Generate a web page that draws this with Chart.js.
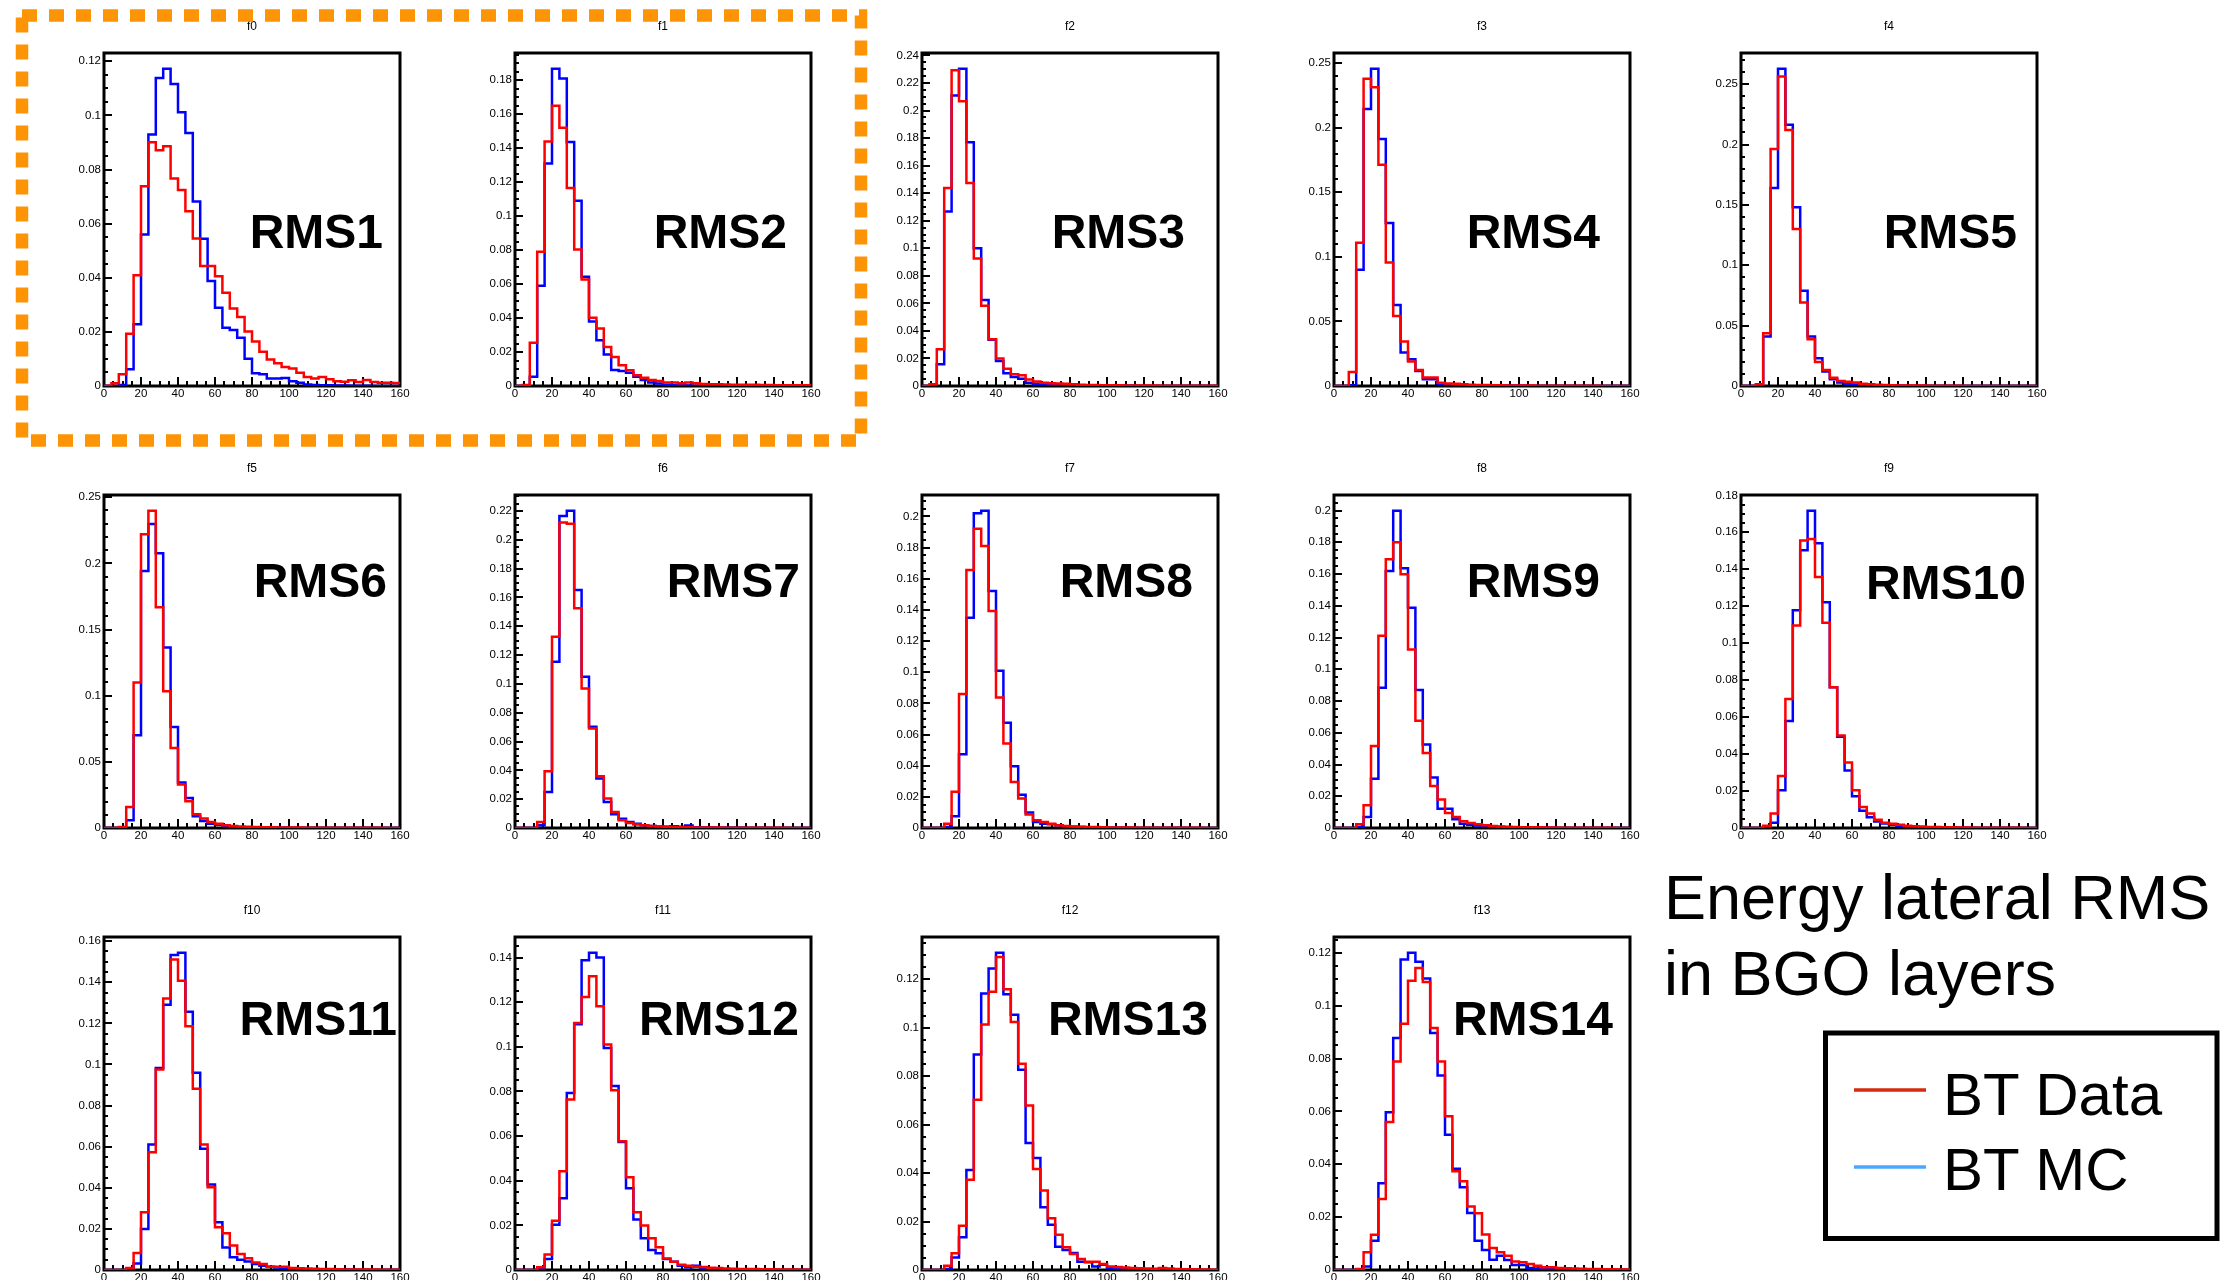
<!DOCTYPE html>
<html>
<head>
<meta charset="utf-8">
<title>Energy lateral RMS in BGO layers</title>
<script src="https://cdn.jsdelivr.net/npm/chart.js@4.4.1/dist/chart.umd.min.js"></script>
<style>
  html, body { margin: 0; padding: 0; background: #fff; }
  #page { position: relative; width: 2238px; height: 1280px; overflow: hidden; background: #fff; }
  #page canvas { position: absolute; }
  #notes { position: absolute; left: 0; top: 0; pointer-events: none; }
  #notes text { font-family: 'Liberation Sans', Arial, Helvetica, sans-serif; fill: #000; }
</style>
</head>
<body>
<div id="page">
  <svg id="notes" width="2238" height="1280" xmlns="http://www.w3.org/2000/svg">
    <rect x="22" y="15.5" width="839" height="425" fill="none" stroke="#fc9406" stroke-width="12.5" stroke-dasharray="15 12"/>
    <text x="1664" y="919" font-size="63">Energy lateral RMS</text>
    <text x="1664" y="995" font-size="63">in BGO layers</text>
    <rect x="1825.5" y="1033" width="391.5" height="205.5" fill="none" stroke="#000" stroke-width="5"/>
    <g id="legendItems"></g>
  </svg>
</div>
<script>
// bin edges (x axis, width 4)
const binEdges = [0, 4, 8, 12, 16, 20, 24, 28, 32, 36, 40, 44, 48, 52, 56, 60, 64, 68, 72, 76,
  80, 84, 88, 92, 96, 100, 104, 108, 112, 116, 120, 124, 128, 132, 136, 140, 144, 148, 152, 156, 160];

const panelTitles = ['f0', 'f1', 'f2', 'f3', 'f4', 'f5', 'f6', 'f7', 'f8', 'f9', 'f10', 'f11', 'f12', 'f13'];
const panelLabels = ['RMS1', 'RMS2', 'RMS3', 'RMS4', 'RMS5', 'RMS6', 'RMS7', 'RMS8', 'RMS9', 'RMS10',
  'RMS11', 'RMS12', 'RMS13', 'RMS14'];
const seriesNames = ['BT Data', 'BT MC'];
const xTickStep = 20;
const yTickStep = [0.02, 0.02, 0.02, 0.05, 0.05, 0.05, 0.02, 0.02, 0.02, 0.02, 0.02, 0.02, 0.02, 0.02];

// BT Data (red) and BT MC (blue), one value per bin
const data1 = [0, 0.001, 0.0043, 0.0193, 0.0409, 0.0738, 0.0901, 0.0871, 0.0886, 0.0767, 0.0724, 0.0646, 0.0545, 0.0443, 0.0443, 0.0406, 0.0345, 0.0286, 0.0255, 0.0201,
  0.0164, 0.0127, 0.0098, 0.0084, 0.007, 0.0065, 0.0049, 0.0033, 0.0028, 0.0033, 0.0025, 0.0018, 0.0016, 0.0021, 0.0015, 0.0022, 0.0015, 0.0012, 0.0012, 0.0011];
const mc1 = [0, 0, 0.0004, 0.0062, 0.0228, 0.056, 0.0929, 0.1138, 0.1172, 0.1116, 0.1012, 0.0935, 0.0682, 0.0544, 0.0388, 0.0289, 0.0215, 0.0207, 0.0178, 0.0101,
  0.0047, 0.0043, 0.0028, 0.0028, 0.003, 0.0018, 0.0012, 0.0006, 0.0004, 0.0003, 0.0003, 0.0002, 0.0002, 0.0001, 0.0001, 0.0001, 0, 0, 0, 0];

const data2 = [0, 0.0006, 0.0255, 0.079, 0.144, 0.165, 0.152, 0.1165, 0.0804, 0.0627, 0.0402, 0.0339, 0.0229, 0.017, 0.0122, 0.0092, 0.0063, 0.0049, 0.0035, 0.0029,
  0.002, 0.002, 0.0016, 0.002, 0.0016, 0.0012, 0.001, 0.001, 0.0009, 0.0008, 0.0008, 0.0007, 0.0007, 0.0006, 0.0006, 0.0005, 0.0005, 0.0005, 0.0004, 0.0004];
const mc2 = [0, 0, 0.0055, 0.059, 0.131, 0.1867, 0.181, 0.1437, 0.109, 0.0643, 0.038, 0.027, 0.0186, 0.0094, 0.0088, 0.0078, 0.0055, 0.0035, 0.002, 0.0014,
  0.0008, 0.0006, 0.0004, 0.0003, 0.0002, 0.0002, 0.0001, 0.0001, 0.0001, 0, 0, 0, 0, 0, 0, 0, 0, 0, 0, 0];

const data3 = [0, 0.0012, 0.0267, 0.1438, 0.2293, 0.2068, 0.1474, 0.0926, 0.0582, 0.0339, 0.0199, 0.0126, 0.0085, 0.0078, 0.0048, 0.0032, 0.0024, 0.002, 0.0019, 0.0017,
  0.0012, 0.0009, 0.0008, 0.0007, 0.0006, 0.0005, 0.0005, 0.0004, 0.0004, 0.0003, 0.0003, 0.0003, 0.0002, 0.0002, 0.0002, 0.0002, 0.0001, 0.0001, 0.0001, 0.0001];
const mc3 = [0, 0, 0.0158, 0.1268, 0.2109, 0.2303, 0.177, 0.1001, 0.0625, 0.0335, 0.0182, 0.0092, 0.0065, 0.0053, 0.0024, 0.0017, 0.0012, 0.0008, 0.0006, 0.0005,
  0.0004, 0.0003, 0.0003, 0.0002, 0.0002, 0.0001, 0.0001, 0.0001, 0.0001, 0, 0, 0, 0, 0, 0, 0, 0, 0, 0, 0];

const data4 = [0, 0, 0.0109, 0.111, 0.2379, 0.2314, 0.1714, 0.0957, 0.0543, 0.0344, 0.0189, 0.0124, 0.0065, 0.0065, 0.0026, 0.002, 0.0018, 0.0013, 0.001, 0.0008,
  0.0007, 0.0006, 0.0005, 0.0004, 0.0004, 0.0003, 0.0003, 0.0002, 0.0002, 0.0002, 0.0001, 0.0001, 0.0001, 0.0001, 0.0001, 0.0001, 0, 0, 0, 0];
const mc4 = [0, 0, 0.0005, 0.09, 0.2146, 0.2456, 0.1913, 0.1262, 0.0628, 0.0259, 0.0207, 0.0116, 0.0052, 0.0052, 0.0018, 0.0013, 0.0009, 0.0007, 0.0005, 0.0004,
  0.0003, 0.0002, 0.0002, 0.0001, 0.0001, 0.0001, 0, 0, 0, 0, 0, 0, 0, 0, 0, 0, 0, 0, 0, 0];

const data5 = [0, 0, 0.0014, 0.0437, 0.1963, 0.2564, 0.2121, 0.13, 0.0691, 0.0387, 0.0199, 0.0133, 0.0069, 0.0041, 0.0036, 0.0028, 0.0019, 0.0014, 0.0011, 0.0008,
  0.0006, 0.0005, 0.0005, 0.0004, 0.0004, 0.0003, 0.0003, 0.0002, 0.0002, 0.0002, 0.0001, 0.0001, 0.0001, 0.0001, 0.0001, 0.0001, 0.0001, 0, 0, 0];
const mc5 = [0, 0, 0.0005, 0.0409, 0.164, 0.2627, 0.2163, 0.148, 0.0788, 0.0409, 0.023, 0.012, 0.0055, 0.0028, 0.0019, 0.0012, 0.0008, 0.0006, 0.0004, 0.0003,
  0.0002, 0.0002, 0.0001, 0.0001, 0.0001, 0, 0, 0, 0, 0, 0, 0, 0, 0, 0, 0, 0, 0, 0, 0];

const data6 = [0, 0, 0.0008, 0.0159, 0.11, 0.222, 0.2397, 0.1668, 0.1034, 0.0605, 0.0328, 0.0202, 0.0103, 0.0071, 0.0045, 0.0033, 0.002, 0.0015, 0.0011, 0.0009,
  0.0007, 0.0006, 0.0005, 0.0004, 0.0004, 0.0003, 0.0003, 0.0002, 0.0002, 0.0002, 0.0002, 0.0001, 0.0001, 0.0001, 0.0001, 0.0001, 0.0001, 0.0001, 0, 0];
const mc6 = [0, 0, 0, 0.0058, 0.0701, 0.1942, 0.2298, 0.2076, 0.1365, 0.0764, 0.0343, 0.0227, 0.0088, 0.0053, 0.0033, 0.0025, 0.0013, 0.0009, 0.0006, 0.0004,
  0.0003, 0.0002, 0.0002, 0.0001, 0.0001, 0, 0, 0, 0, 0, 0, 0, 0, 0, 0, 0, 0, 0, 0, 0];

const data7 = [0, 0, 0, 0.0042, 0.0394, 0.1327, 0.2119, 0.211, 0.1524, 0.0968, 0.069, 0.0359, 0.0204, 0.0111, 0.0053, 0.0035, 0.0025, 0.0019, 0.0014, 0.001,
  0.0008, 0.0007, 0.0006, 0.0005, 0.0004, 0.0004, 0.0003, 0.0003, 0.0002, 0.0002, 0.0002, 0.0001, 0.0001, 0.0001, 0.0001, 0.0001, 0.0001, 0, 0, 0];
const mc7 = [0, 0, 0, 0.0019, 0.025, 0.1153, 0.2165, 0.22, 0.1651, 0.1049, 0.0702, 0.0343, 0.0181, 0.0095, 0.0065, 0.0042, 0.003, 0.0019, 0.0014, 0.0011,
  0.0009, 0.0012, 0.0008, 0.0018, 0.0005, 0.0004, 0.0003, 0.0002, 0.0002, 0.0001, 0.0001, 0, 0, 0, 0, 0, 0, 0, 0, 0];

const data8 = [0, 0, 0, 0.0028, 0.0232, 0.086, 0.1657, 0.1921, 0.1811, 0.1393, 0.0838, 0.0542, 0.0296, 0.0189, 0.0086, 0.0049, 0.0039, 0.0028, 0.0017, 0.0013,
  0.001, 0.0008, 0.0007, 0.0006, 0.0005, 0.0004, 0.0004, 0.0003, 0.0003, 0.0002, 0.0002, 0.0002, 0.0001, 0.0001, 0.0001, 0.0001, 0.0001, 0.0001, 0, 0];
const mc8 = [0, 0, 0, 0.0006, 0.0075, 0.0474, 0.135, 0.2021, 0.2036, 0.1522, 0.101, 0.0675, 0.0397, 0.0214, 0.0099, 0.0039, 0.0028, 0.0024, 0.0017, 0.0012,
  0.0008, 0.0006, 0.0004, 0.0003, 0.0002, 0.0002, 0.0001, 0.0001, 0, 0, 0, 0, 0, 0, 0, 0, 0, 0, 0, 0];

const data9 = [0, 0, 0, 0.0023, 0.0143, 0.0517, 0.1211, 0.1693, 0.18, 0.1598, 0.1125, 0.0675, 0.0473, 0.0265, 0.0179, 0.0095, 0.0069, 0.0042, 0.0032, 0.0023,
  0.0017, 0.0012, 0.001, 0.0008, 0.0006, 0.0005, 0.0004, 0.0004, 0.0003, 0.0003, 0.0002, 0.0002, 0.0002, 0.0001, 0.0001, 0.0001, 0.0001, 0.0001, 0, 0];
const mc9 = [0, 0, 0, 0.0006, 0.0069, 0.0311, 0.0883, 0.1619, 0.1998, 0.1636, 0.1388, 0.0869, 0.0526, 0.0318, 0.0122, 0.0122, 0.0055, 0.0027, 0.0021, 0.0015,
  0.0011, 0.0008, 0.0006, 0.0004, 0.0003, 0.0002, 0.0002, 0.0001, 0.0001, 0, 0, 0, 0, 0, 0, 0, 0, 0, 0, 0];

const data10 = [0, 0, 0, 0.0012, 0.0079, 0.0282, 0.0698, 0.1096, 0.1556, 0.1564, 0.1358, 0.1111, 0.0762, 0.05, 0.0355, 0.0204, 0.0113, 0.0079, 0.0044, 0.0029,
  0.0023, 0.0017, 0.0012, 0.001, 0.0008, 0.0006, 0.0005, 0.0004, 0.0004, 0.0003, 0.0003, 0.0002, 0.0002, 0.0002, 0.0001, 0.0001, 0.0001, 0.0001, 0, 0];
const mc10 = [0, 0, 0, 0.0003, 0.0029, 0.0204, 0.0579, 0.1178, 0.1503, 0.1716, 0.1541, 0.1221, 0.0762, 0.0494, 0.0311, 0.0172, 0.0093, 0.0058, 0.0035, 0.0025,
  0.0017, 0.0012, 0.0008, 0.0006, 0.0004, 0.0003, 0.0002, 0.0002, 0.0001, 0.0001, 0, 0, 0, 0, 0, 0, 0, 0, 0, 0];

const data11 = [0, 0, 0, 0.001, 0.0083, 0.0281, 0.0573, 0.0975, 0.1321, 0.1511, 0.1407, 0.1186, 0.0882, 0.0611, 0.0403, 0.0208, 0.0179, 0.0119, 0.0078, 0.0057,
  0.0037, 0.0029, 0.0016, 0.0016, 0.0016, 0.001, 0.0008, 0.0007, 0.0006, 0.0005, 0.0005, 0.0004, 0.0003, 0.0003, 0.0002, 0.0002, 0.0002, 0.0001, 0.0001, 0.0001];
const mc11 = [0, 0, 0, 0.0004, 0.0032, 0.02, 0.0611, 0.0983, 0.1291, 0.1532, 0.1543, 0.1256, 0.096, 0.059, 0.0416, 0.0232, 0.011, 0.0062, 0.005, 0.0041,
  0.0029, 0.0021, 0.0016, 0.0012, 0.0009, 0.0007, 0.0005, 0.0004, 0.0003, 0.0002, 0.0002, 0.0001, 0.0001, 0.0001, 0, 0, 0, 0, 0, 0];

const data12 = [0, 0, 0, 0.0012, 0.0069, 0.0221, 0.0443, 0.0764, 0.1107, 0.1223, 0.1316, 0.1182, 0.101, 0.0805, 0.0577, 0.0416, 0.0259, 0.0199, 0.0142, 0.0102,
  0.0052, 0.0037, 0.0024, 0.0019, 0.0015, 0.0013, 0.001, 0.0009, 0.0007, 0.0006, 0.0005, 0.0004, 0.0004, 0.0003, 0.0003, 0.0002, 0.0002, 0.0002, 0.0001, 0.0001];
const mc12 = [0, 0, 0, 0.0004, 0.0049, 0.0203, 0.0322, 0.0793, 0.1101, 0.1388, 0.1421, 0.14, 0.0995, 0.0824, 0.0573, 0.0366, 0.0226, 0.0142, 0.009, 0.0075,
  0.0049, 0.0037, 0.0019, 0.0012, 0.0019, 0.0008, 0.0006, 0.0004, 0.0003, 0.0002, 0.0002, 0.0001, 0.0001, 0, 0, 0, 0, 0, 0, 0];

const data13 = [0, 0, 0, 0.0018, 0.0069, 0.0183, 0.0372, 0.0703, 0.1013, 0.1148, 0.1292, 0.1159, 0.1024, 0.0851, 0.0679, 0.0417, 0.0328, 0.0214, 0.0146, 0.0094,
  0.0066, 0.0045, 0.0034, 0.0034, 0.0025, 0.0014, 0.0012, 0.001, 0.0008, 0.0007, 0.0006, 0.0005, 0.0008, 0.0006, 0.0004, 0.0003, 0.0003, 0.0002, 0.0002, 0.0001];
const mc13 = [0, 0, 0, 0.0004, 0.0052, 0.0135, 0.0413, 0.0889, 0.1141, 0.1244, 0.1309, 0.1138, 0.1054, 0.0827, 0.0524, 0.0462, 0.0259, 0.0187, 0.0096, 0.0083,
  0.007, 0.0034, 0.0032, 0.0014, 0.0022, 0.0008, 0.0006, 0.0005, 0.0004, 0.0003, 0.0002, 0.0002, 0.0001, 0.0001, 0, 0, 0, 0, 0, 0];

const data14 = [0, 0, 0, 0.0004, 0.0067, 0.0133, 0.0269, 0.056, 0.0789, 0.0932, 0.1094, 0.1143, 0.109, 0.0916, 0.0789, 0.0582, 0.0374, 0.0336, 0.024, 0.0215,
  0.0134, 0.0083, 0.0067, 0.0054, 0.0032, 0.0029, 0.0023, 0.0016, 0.001, 0.001, 0.0008, 0.0007, 0.0006, 0.0005, 0.0004, 0.0004, 0.0003, 0.0003, 0.0002, 0.0002];
const mc14 = [0, 0, 0, 0.0002, 0.0013, 0.0111, 0.0328, 0.0597, 0.0878, 0.1175, 0.12, 0.1166, 0.1103, 0.0897, 0.0736, 0.0512, 0.0383, 0.0313, 0.0216, 0.0111,
  0.0076, 0.0039, 0.0054, 0.0038, 0.0019, 0.0019, 0.0008, 0.0006, 0.0005, 0.0004, 0.0003, 0.0002, 0.0002, 0.0001, 0.0001, 0, 0, 0, 0, 0];

const btData = [data1, data2, data3, data4, data5, data6, data7, data8, data9, data10, data11, data12, data13, data14];
const btMC = [mc1, mc2, mc3, mc4, mc5, mc6, mc7, mc8, mc9, mc10, mc11, mc12, mc13, mc14];

// look
const dataColor = '#ff0000';
const mcColor = '#0000ff';
const legendColors = ['#d42a0e', '#4aa8ff'];
const fontFamily = "'Liberation Sans', Arial, Helvetica, sans-serif";

// placement of the 14 frames
const colLeft = [104, 515, 922, 1334, 1741];
const rowTop = [53, 495, 937];
const plotW = 296, plotH = 333;
const padL = 50, padT = 45, padR = 14, padB = 22;
// RMS label: distance from right frame edge, baseline below top frame edge
const labelGap = [17, 24, 33, 30, 20, 13, 11, 25, 30, 11, 3, 12, 10, 17];
const labelBase = [195, 195, 195, 195, 195, 102, 102, 102, 102, 104, 98, 98, 98, 98];

function toSteps(values) {
  return binEdges.map((x, k) => ({ x: x, y: values[Math.min(k, values.length - 1)] }));
}

// ROOT-like frame, inward ticks, title and big label
function panelDeco(i) {
  return {
    id: 'panelDeco',
    beforeDatasetsDraw(chart) {
      const { ctx, chartArea: a, scales } = chart;
      const x = scales.x, y = scales.y;
      ctx.save();
      ctx.strokeStyle = '#000';
      ctx.lineWidth = 2;
      ctx.beginPath();
      const nMinor = yTickStep[i] === 0.05 ? 5 : 4;
      const step = yTickStep[i] / nMinor;
      for (let k = 0; k * step <= y.max + 1e-9; k++) {
        const py = Math.round(y.getPixelForValue(k * step));
        const len = k % nMinor === 0 ? 8 : 4;
        ctx.moveTo(a.left, py);
        ctx.lineTo(a.left + len, py);
      }
      for (let v = 0; v <= 160; v += 5) {
        const px = Math.round(x.getPixelForValue(v));
        const len = v % xTickStep === 0 ? 9 : 5;
        ctx.moveTo(px, a.bottom);
        ctx.lineTo(px, a.bottom - len);
      }
      ctx.stroke();
      ctx.lineWidth = 3;
      ctx.strokeRect(a.left, a.top, a.right - a.left, a.bottom - a.top);
      ctx.restore();
    },
    afterDatasetsDraw(chart) {
      const { ctx, chartArea: a } = chart;
      ctx.save();
      ctx.fillStyle = '#000';
      ctx.font = '12px ' + fontFamily;
      ctx.textAlign = 'center';
      ctx.textBaseline = 'middle';
      ctx.fillText(panelTitles[i], (a.left + a.right) / 2, a.top - 26);
      ctx.font = 'bold 48px ' + fontFamily;
      ctx.textAlign = 'right';
      ctx.textBaseline = 'alphabetic';
      ctx.fillText(panelLabels[i], a.right - labelGap[i], a.top + labelBase[i]);
      ctx.restore();
    }
  };
}

const page = document.getElementById('page');
const tickFont = { family: fontFamily, size: 11.5 };

btData.forEach((values, i) => {
  const col = i % 5, row = Math.floor(i / 5);
  const canvas = document.createElement('canvas');
  canvas.width = padL + plotW + padR;
  canvas.height = padT + plotH + padB;
  canvas.style.left = (colLeft[col] - padL) + 'px';
  canvas.style.top = (rowTop[row] - padT) + 'px';
  page.insertBefore(canvas, document.getElementById('notes'));

  const yMax = 1.05 * Math.max(...values, ...btMC[i]);

  new Chart(canvas, {
    type: 'line',
    data: {
      datasets: [
        { label: seriesNames[0], data: toSteps(values), borderColor: dataColor, borderWidth: 2.5,
          stepped: true, pointRadius: 0, fill: false, borderJoinStyle: 'miter' },
        { label: seriesNames[1], data: toSteps(btMC[i]), borderColor: mcColor, borderWidth: 2.5,
          stepped: true, pointRadius: 0, fill: false, borderJoinStyle: 'miter' }
      ]
    },
    options: {
      responsive: false,
      animation: false,
      events: [],
      layout: { padding: { left: 0, top: padT, right: padR, bottom: 0 } },
      plugins: { legend: { display: false }, tooltip: { enabled: false }, title: { display: false } },
      scales: {
        x: {
          type: 'linear', min: 0, max: 160,
          grid: { display: false, drawTicks: false },
          border: { display: false },
          ticks: { stepSize: xTickStep, includeBounds: false, autoSkip: false, maxRotation: 0,
            padding: 1, color: '#000', font: tickFont },
          afterFit: (s) => { s.height = padB; }
        },
        y: {
          type: 'linear', min: 0, max: yMax,
          grid: { display: false, drawTicks: false },
          border: { display: false },
          ticks: { stepSize: yTickStep[i], includeBounds: false, autoSkip: false, maxTicksLimit: 60,
            padding: 3, color: '#000', font: tickFont,
            callback: (v) => String(+v.toFixed(4)) },
          afterFit: (s) => { s.width = padL; }
        }
      }
    },
    plugins: [panelDeco(i)]
  });
});

// legend of the figure
const legendItems = document.getElementById('legendItems');
const legendRows = [1090, 1167];
const legendBaselines = [1115, 1190];
seriesNames.forEach((name, k) => {
  const ln = document.createElementNS('http://www.w3.org/2000/svg', 'line');
  ln.setAttribute('x1', 1854);
  ln.setAttribute('x2', 1926);
  ln.setAttribute('y1', legendRows[k]);
  ln.setAttribute('y2', legendRows[k]);
  ln.setAttribute('stroke', legendColors[k]);
  ln.setAttribute('stroke-width', 3.5);
  legendItems.appendChild(ln);
  const tx = document.createElementNS('http://www.w3.org/2000/svg', 'text');
  tx.setAttribute('x', 1943);
  tx.setAttribute('y', legendBaselines[k]);
  tx.setAttribute('font-size', 60);
  tx.textContent = name;
  legendItems.appendChild(tx);
});
</script>
</body>
</html>
